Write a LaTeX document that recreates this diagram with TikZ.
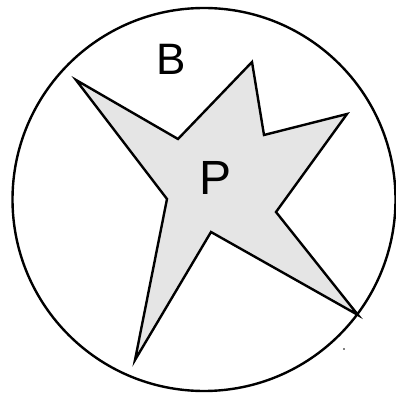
\documentclass[tikz,border=0pt]{standalone}
\usepackage{fontspec}
\setmainfont{Liberation Sans}
\begin{document}
\begin{tikzpicture}[x=1pt,y=-1pt,
  outline/.style={line width=2.4pt, line join=miter},
  region/.style={outline, fill=black!10},
  lbl/.style={inner sep=0pt, font=\fontsize{44}{44}\selectfont}]
\useasboundingbox (0,0) rectangle (396,395);
\node[circle, draw, line width=2.4pt, minimum size=383pt, inner sep=0pt] (B0) at (204,199.5) {};
\draw[region] (76,80) -- (178,139) -- (252,62) -- (264,135) -- (347,114) -- (276,212)
  -- (358,315) -- (211,232) -- (135,360) -- (167,199) -- cycle;
\node[lbl] (B) at (171,59) {B};
\node[lbl, font=\fontsize{48}{48}\selectfont] (P) at (216,178) {P};
\fill (344,349) circle (0.8pt);
\end{tikzpicture}
\end{document}
